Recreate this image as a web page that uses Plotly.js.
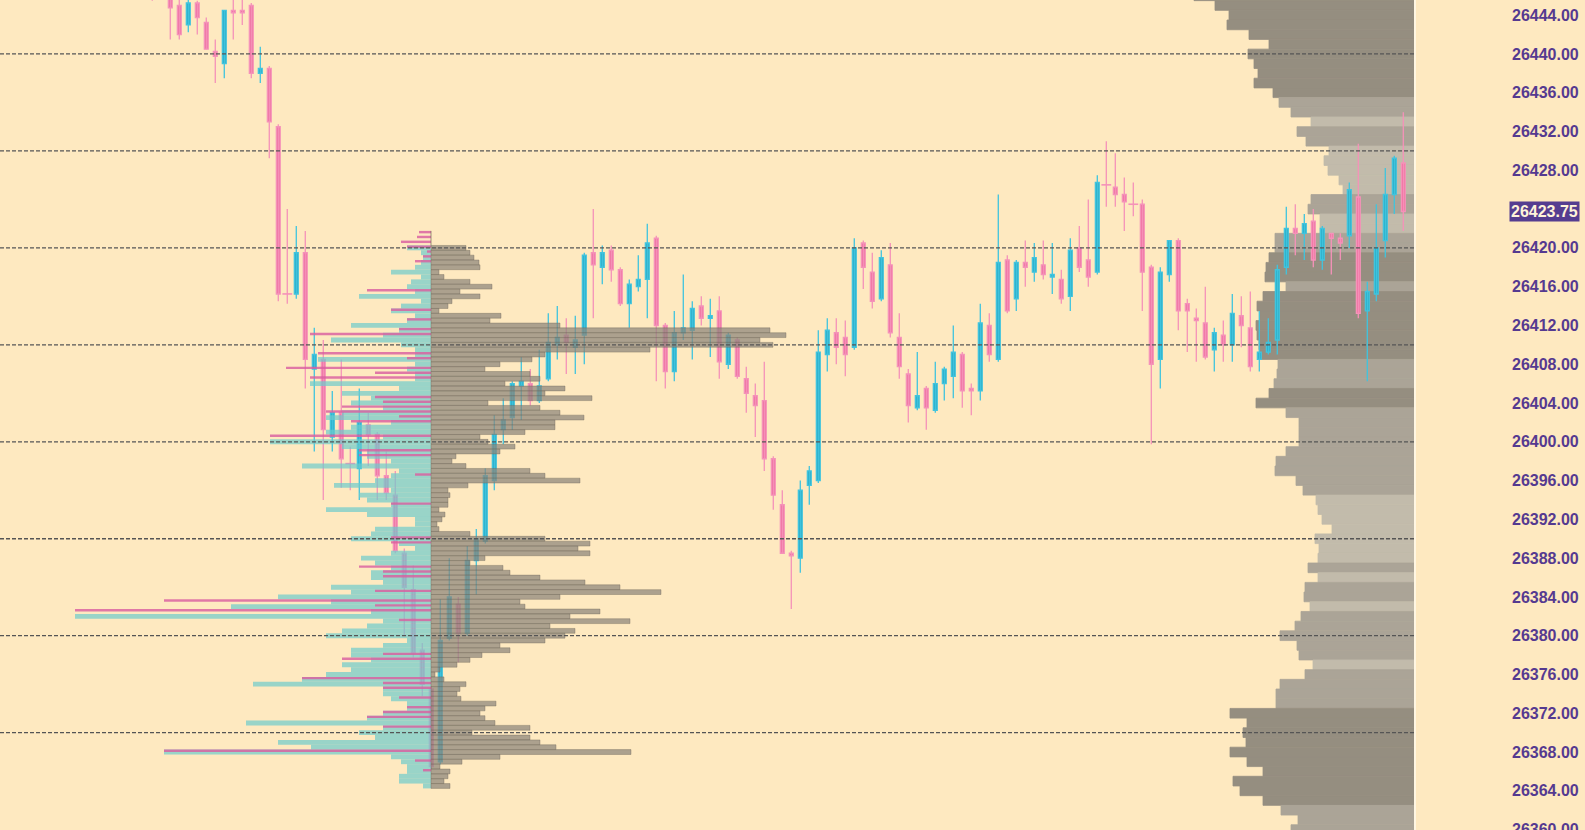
<!DOCTYPE html>
<html><head><meta charset="utf-8">
<script src="https://cdn.plot.ly/plotly-3.0.1.min.js"></script>
<style>html,body{margin:0;padding:0;background:#fee9c0;}#chart{width:1585px;height:830px;}</style>
</head><body><div id="chart"></div>
<script>
// ---------- candles (bar number, OHLC) ----------
const firstBar = -2;
const opens = [26447.5,26448.5,26446.75,26445.0,26443.0,26445.25,26443.25,26440.25,26439.0,26444.5,26444.5,26445.0,26438.0,26438.5,26432.5,26415.25,26415.25,26419.5,26407.5,26408.5,26400.5,26403.0,26397.75,26397.25,26401.75,26400.75,26396.5,26394.5,26388.5,26384.75,26378.5,26374.5,26367.0,26379.75,26383.25,26380.25,26387.75,26389.75,26396.0,26401.25,26402.5,26405.75,26406.0,26404.25,26406.5,26410.0,26411.0,26409.75,26411.0,26419.5,26418.0,26419.75,26417.75,26414.25,26416.0,26416.75,26421.0,26412.0,26407.25,26411.25,26411.5,26414.0,26412.75,26413.5,26408.0,26410.5,26406.5,26404.75,26404.25,26398.25,26393.5,26388.5,26388.0,26395.5,26396.0,26409.0,26411.25,26410.75,26409.75,26420.5,26417.5,26414.75,26418.25,26410.75,26407.0,26403.5,26405.5,26403.25,26406.0,26406.75,26409.0,26405.5,26405.25,26412.0,26408.5,26418.75,26414.75,26418.5,26417.5,26418.25,26417.0,26416.75,26415.0,26420.0,26418.75,26417.5,26426.5,26426.25,26425.5,26424.5,26424.5,26418.0,26408.5,26417.25,26420.75,26414.25,26412.75,26412.25,26409.5,26411.0,26410.0,26413.0,26411.75,26408.5,26409.25,26410.5,26418.0,26422.0,26421.5,26422.75,26418.75,26421.5,26421.0,26421.25,26425.25,26413.5,26415.25,26420.75,26425.5,26428.75];
const highs = [26448.5,26449.5,26447.5,26446.0,26446.25,26445.5,26443.75,26441.5,26444.5,26445.75,26445.75,26445.25,26440.75,26438.75,26432.75,26424.0,26422.25,26421.75,26411.75,26410.5,26405.25,26408.5,26399.5,26405.5,26403.0,26401.0,26399.0,26397.0,26389.0,26387.25,26379.25,26374.75,26383.75,26388.0,26384.0,26389.25,26391.0,26397.25,26402.75,26404.5,26406.25,26408.75,26407.5,26409.5,26413.25,26414.0,26412.75,26413.0,26419.5,26424.0,26420.25,26420.25,26418.0,26416.75,26419.25,26422.5,26421.25,26412.25,26413.5,26417.25,26414.5,26415.0,26414.75,26415.0,26411.25,26410.75,26407.75,26406.0,26408.25,26398.5,26395.0,26388.75,26396.0,26397.5,26411.5,26412.75,26412.75,26412.5,26421.0,26420.75,26419.5,26419.75,26420.5,26413.25,26407.5,26409.25,26405.75,26408.25,26407.75,26412.0,26409.25,26406.0,26414.25,26413.25,26425.5,26419.25,26418.75,26420.75,26420.5,26420.75,26420.5,26417.75,26421.0,26422.25,26425.0,26427.5,26431.0,26429.75,26427.25,26426.75,26425.0,26418.25,26418.0,26420.75,26421.0,26414.75,26413.75,26416.0,26411.75,26412.5,26415.25,26415.0,26415.5,26413.5,26412.75,26418.25,26424.25,26424.5,26423.5,26424.0,26422.25,26421.5,26421.5,26426.75,26430.75,26416.5,26424.5,26428.25,26429.5,26434.0];
const lows = [26445.5,26446.75,26441.5,26441.5,26442.25,26442.0,26440.5,26437.0,26437.5,26441.5,26443.0,26437.5,26437.0,26429.25,26414.5,26414.25,26414.75,26405.5,26399.0,26394.0,26399.0,26395.25,26395.0,26394.0,26397.5,26394.0,26394.0,26388.5,26380.0,26377.75,26373.75,26366.25,26366.75,26379.5,26377.25,26380.0,26384.25,26389.5,26395.0,26399.75,26401.25,26402.25,26403.75,26404.0,26406.25,26408.5,26407.0,26407.0,26408.0,26412.75,26416.25,26416.5,26414.0,26411.75,26415.5,26412.75,26406.25,26405.5,26406.25,26410.5,26408.5,26412.0,26408.75,26406.5,26407.5,26406.5,26403.0,26400.5,26397.0,26393.0,26388.5,26382.75,26386.5,26393.5,26395.75,26407.25,26408.0,26406.75,26409.5,26415.75,26413.75,26414.5,26410.75,26406.5,26402.0,26403.25,26401.25,26403.0,26404.25,26404.5,26403.5,26402.75,26404.25,26408.25,26408.25,26413.25,26413.5,26416.0,26416.5,26416.75,26415.25,26414.25,26413.5,26417.5,26416.0,26417.25,26424.25,26424.25,26421.75,26423.25,26413.5,26399.75,26405.5,26416.5,26411.5,26409.25,26408.25,26408.5,26407.25,26408.25,26408.25,26409.75,26407.25,26407.25,26409.0,26409.0,26417.25,26419.25,26418.75,26418.0,26417.75,26417.25,26418.75,26420.0,26412.75,26406.25,26414.5,26419.0,26423.5,26421.75];
const closes = [26446.5,26447.5,26444.75,26442.0,26445.25,26443.75,26440.5,26439.75,26444.5,26444.25,26444.25,26438.0,26438.5,26433.0,26415.25,26415.25,26419.5,26408.5,26409.0,26401.25,26403.0,26398.25,26397.75,26402.0,26400.75,26396.5,26394.75,26388.75,26385.0,26378.25,26375.0,26366.5,26379.5,26384.0,26380.25,26387.75,26390.0,26396.5,26400.75,26402.25,26406.0,26406.25,26404.25,26405.75,26410.25,26410.75,26410.25,26410.5,26419.25,26418.25,26419.5,26417.75,26414.25,26416.25,26416.75,26420.5,26412.0,26407.25,26411.25,26411.75,26413.75,26412.75,26413.0,26408.25,26411.0,26406.75,26405.0,26403.75,26398.25,26394.5,26388.5,26388.25,26395.0,26397.0,26409.25,26411.5,26409.75,26409.0,26420.0,26418.0,26414.5,26419.0,26411.25,26407.75,26403.75,26404.75,26403.5,26406.0,26407.5,26409.25,26405.25,26405.25,26412.25,26409.0,26418.5,26413.5,26418.5,26418.0,26419.0,26417.25,26417.25,26414.75,26419.75,26418.0,26417.0,26426.75,26426.5,26425.5,26424.75,26424.5,26417.5,26408.0,26417.5,26420.75,26413.5,26413.5,26412.5,26408.75,26411.25,26410.0,26413.25,26412.0,26407.75,26409.25,26410.25,26417.75,26422.0,26421.5,26422.5,26418.75,26422.0,26421.0,26420.5,26426.0,26413.25,26415.5,26420.0,26425.5,26429.25,26423.75];

// ---------- session volume profile (right edge), one row per point ----------
const rightTop = 26446;
const rightVolume = [221,200,186,188,166,146,167,161,157,161,142,136,124,104,118,109,86,91,87,76,72,104,107,95,95,140,140,146,149,150,129,152,158,155,159,158,156,155,137,138,141,146,159,129,116,116,116,129,139,140,119,112,99,97,93,83,100,96,97,107,97,110,111,105,114,120,135,118,116,102,110,135,139,139,185,168,172,169,185,168,152,182,175,152,134,117,124];
const rightZone = "DDDDDDDDDDDMMLMMLLLLLMMLLMMDDDMDDDDDDDMMMDDMMMMMMMMMLLLLLLLMLMMLMMMMMLMMMMDDDDDDDDDDMMM".split('');

// ---------- composite profile in the middle, rows of half a point ----------
const midTop = 26421.5;
const midBuy = [0,0,0,24,10,8,10,16,40,10,20,24,16,72,10,30,40,16,24,80,32,48,100,30,16,16,113,16,24,16,16,121,32,89,60,80,48,89,105,40,80,105,48,161,89,64,64,40,129,32,40,56,97,40,72,64,40,105,64,16,16,56,60,80,32,16,40,70,56,40,60,60,48,100,80,153,100,200,60,356,48,64,89,105,24,48,80,80,60,89,80,105,129,178,48,48,40,24,24,48,64,185,48,72,56,153,120,267,40,30,24,24,32,32,8];
const midSell = [12,14,30,24,4,8,16,0,0,0,0,0,64,0,0,0,40,0,24,0,32,121,0,0,0,113,24,0,145,56,121,0,0,0,56,48,89,105,32,80,0,0,161,0,0,72,72,0,0,0,16,0,0,0,0,0,40,0,0,0,0,0,0,40,40,0,0,0,0,72,48,48,0,0,56,0,267,56,356,0,32,0,0,0,0,0,0,48,89,0,0,0,129,48,48,0,32,0,24,48,64,0,48,0,0,0,0,267,0,16,0,8,0,0,0];
const midTotal = [0,0,0,35,39,43,48,49,8,13,39,61,29,49,21,17,8,70,59,129,339,355,329,342,219,114,101,69,54,99,109,74,134,114,161,57,109,129,153,124,124,94,49,57,84,69,25,21,35,99,114,149,37,17,19,17,17,8,14,11,6,8,39,114,159,147,159,54,39,72,79,109,154,189,230,129,89,94,169,139,199,119,144,134,114,69,79,51,39,26,9,4,13,35,29,26,30,65,54,49,54,64,99,41,99,109,125,200,69,31,9,19,17,13,19];

const tickValues = [26444,26440,26436,26432,26428,26420,26416,26412,26408,26404,26400,26396,26392,26388,26384,26380,26376,26372,26368,26364,26360];
const gridLevels = [26440,26430,26420,26410,26400,26390,26380,26370];
const lastPrice = 26423.75;

// ---------- styles ----------
const BG = '#fee9c0';
const UP_FILL = '#27a7c0', UP_EDGE = '#40c4de';
const DN_FILL = '#ee6a9b', DN_EDGE = '#f592b9';
const ZONE_COL = {D:'#958e80', M:'#aba497', L:'#c2bbab'};

// ---------- build traces ----------
const bars = opens.map((o,k)=>({i:firstBar+k,o:o,h:highs[k],l:lows[k],c:closes[k]}));
function wicks(list){const x=[],y=[];list.forEach(b=>{x.push(b.i,b.i,null);y.push(b.l,b.h,null);});return {x,y};}
const ups = bars.filter(b=>b.c>b.o), dns = bars.filter(b=>b.c<b.o), dojis = bars.filter(b=>b.c===b.o);
const wu = wicks(ups), wd = wicks(dns.concat(dojis));

const rightLevels = rightVolume.map((_,k)=>rightTop-k);
const midLevels = midBuy.map((_,k)=>midTop-0.5*k);
const zoneColors = rightZone.map(z=>ZONE_COL[z]);

const data = [
  {type:'bar',orientation:'h',xaxis:'x',yaxis:'y',y:rightLevels,x:rightVolume,width:1,
   marker:{color:zoneColors,line:{color:zoneColors,width:0.8}},hoverinfo:'skip'},
  {type:'scatter',mode:'lines',xaxis:'x2',yaxis:'y',x:wu.x,y:wu.y,line:{color:UP_EDGE,width:1.3},hoverinfo:'skip',connectgaps:false},
  {type:'scatter',mode:'lines',xaxis:'x2',yaxis:'y',x:wd.x,y:wd.y,line:{color:DN_EDGE,width:1.3},hoverinfo:'skip',connectgaps:false},
  {type:'bar',xaxis:'x2',yaxis:'y',x:ups.map(b=>b.i),base:ups.map(b=>b.o),y:ups.map(b=>b.c-b.o),width:0.42,
   marker:{color:UP_FILL,line:{color:UP_EDGE,width:1.4}},hoverinfo:'skip'},
  {type:'bar',xaxis:'x2',yaxis:'y',x:dns.map(b=>b.i),base:dns.map(b=>b.c),y:dns.map(b=>b.o-b.c),width:0.42,
   marker:{color:DN_FILL,line:{color:DN_EDGE,width:1.4}},hoverinfo:'skip'},
  {type:'scatter',mode:'markers',xaxis:'x2',yaxis:'y',x:dojis.map(b=>b.i),y:dojis.map(b=>b.c),
   marker:{symbol:'line-ew',size:7,line:{color:DN_EDGE,width:1.6}},hoverinfo:'skip'},
  {type:'bar',orientation:'h',xaxis:'x3',yaxis:'y',y:midLevels,x:midBuy.map(v=>-v),width:0.5,
   marker:{color:'rgba(109,202,204,0.7)',line:{width:0}},hoverinfo:'skip'},
  {type:'bar',orientation:'h',xaxis:'x3',yaxis:'y',y:midLevels,x:midSell.map(v=>-v),width:0.25,offset:0,
   marker:{color:'rgba(217,95,160,0.82)',line:{width:0}},hoverinfo:'skip'},
  {type:'bar',orientation:'h',xaxis:'x3',yaxis:'y',y:midLevels,x:midTotal,width:0.5,
   marker:{color:'rgba(140,133,122,0.72)',line:{color:'rgba(110,102,90,0.55)',width:0.7}},hoverinfo:'skip'}
];

const shapes = gridLevels.map(v=>({type:'line',xref:'paper',x0:0,x1:1,yref:'y',y0:v,y1:v,layer:'above',
  line:{color:'#555555',width:1.3,dash:'4px,2px'}}));
shapes.push({type:'line',xref:'paper',x0:1,x1:1,yref:'paper',y0:0,y1:1,layer:'above',line:{color:'#fff6e2',width:2}});

const layout = {
  width:1585,height:830,margin:{l:0,r:170,t:0,b:0,pad:0},
  paper_bgcolor:BG,plot_bgcolor:BG,showlegend:false,hovermode:false,barmode:'overlay',
  xaxis:{range:[1415,0],visible:false,fixedrange:true},
  xaxis2:{overlaying:'x',anchor:'y',range:[-18.92,138.3],visible:false,fixedrange:true},
  xaxis3:{overlaying:'x',anchor:'y',range:[-431,984],visible:false,fixedrange:true},
  yaxis:{range:[26359.96,26445.567],side:'right',showgrid:false,zeroline:false,showline:false,ticks:'',
    tickvals:tickValues,ticktext:tickValues.map(v=>v.toFixed(2)),ticklabelstandoff:96,ticklabeloverflow:'allow',
    automargin:false,fixedrange:true,
    tickfont:{family:'Liberation Sans, Arial, sans-serif',size:16,color:'#553a90',weight:'bold'}},
  shapes:shapes,
  annotations:[{xref:'paper',x:1,xanchor:'left',xshift:94,yref:'y',y:lastPrice,yanchor:'middle',
    text:lastPrice.toFixed(2),showarrow:false,bgcolor:'#553d90',borderpad:1,
    font:{family:'Liberation Sans, Arial, sans-serif',size:16,color:'#fff3da',weight:'bold'}}]
};
Plotly.newPlot('chart',data,layout,{displayModeBar:false,staticPlot:true});
</script></body></html>
